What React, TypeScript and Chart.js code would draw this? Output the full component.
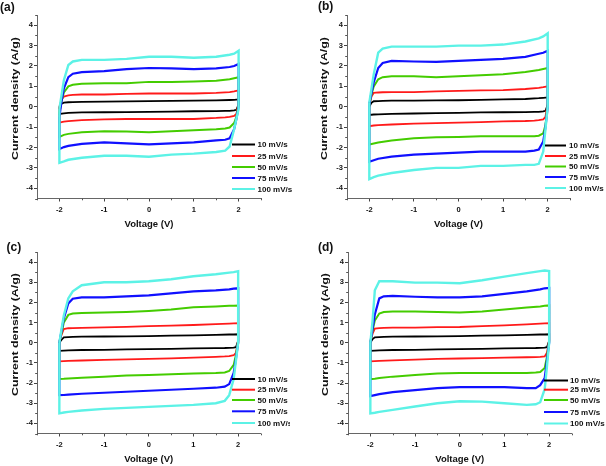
import React, { useEffect, useRef } from 'react';
import { Chart, registerables } from 'chart.js';
Chart.register(...registerables);

const RATES = ['10 mV/s', '25 mV/s', '50 mV/s', '75 mV/s', '100 mV/s'];
const COLORS = ['#000000', '#ff1a1a', '#44cc00', '#1010ff', '#5cf2e6'];
const WIDTHS = [1.8, 1.8, 2, 2.2, 2.4];

const X_TICKS = [-2, -1, 0, 1, 2];
const Y_TICKS = [-4, -3, -2, -1, 0, 1, 2, 3, 4];

// forward scan voltages (-2 -> 2) and reverse scan voltages (2 -> -2)
const V_FWD = [-2, -1.95, -1.9, -1.8, -1.7, -1.5, -1, -0.5, 0, 0.5, 1, 1.5, 1.8, 1.9, 2];
const V_REV = [2, 1.95, 1.9, 1.8, 1.7, 1.5, 1, 0.5, 0, -0.5, -1, -1.5, -1.8, -1.9, -2];

// panel (a)
const A_FWD = [
  [0, 0.15, 0.2, 0.22, 0.23, 0.24, 0.25, 0.26, 0.28, 0.29, 0.3, 0.31, 0.33, 0.34, 0.36],
  [0, 0.35, 0.5, 0.56, 0.58, 0.6, 0.6, 0.63, 0.65, 0.65, 0.65, 0.68, 0.72, 0.75, 0.8],
  [-0.3, 0.3, 0.7, 1.0, 1.08, 1.13, 1.15, 1.15, 1.22, 1.22, 1.24, 1.28, 1.35, 1.4, 1.45],
  [-0.5, 0.3, 0.9, 1.45, 1.62, 1.7, 1.75, 1.85, 1.9, 1.88, 1.85, 1.88, 1.95, 2.0, 2.1],
  [-0.1, 0.6, 1.3, 2.05, 2.22, 2.3, 2.3, 2.35, 2.45, 2.45, 2.4, 2.45, 2.55, 2.6, 2.75],
];
const A_REV = [
  [0.1, -0.15, -0.18, -0.2, -0.2, -0.21, -0.22, -0.24, -0.25, -0.26, -0.27, -0.28, -0.3, -0.32, -0.35],
  [0.2, -0.35, -0.45, -0.5, -0.52, -0.55, -0.6, -0.6, -0.6, -0.6, -0.62, -0.66, -0.7, -0.73, -0.78],
  [0.1, -0.5, -0.8, -1.02, -1.07, -1.1, -1.15, -1.2, -1.25, -1.22, -1.2, -1.25, -1.33, -1.38, -1.48],
  [0, -0.6, -1.1, -1.55, -1.62, -1.65, -1.75, -1.8, -1.85, -1.8, -1.75, -1.82, -1.92, -1.98, -2.08],
  [-0.1, -0.6, -1.1, -1.95, -2.15, -2.22, -2.3, -2.35, -2.45, -2.4, -2.4, -2.5, -2.6, -2.68, -2.75],
];

// panel (b)
const B_FWD = [
  [0, 0.2, 0.27, 0.28, 0.29, 0.3, 0.3, 0.31, 0.32, 0.34, 0.36, 0.38, 0.42, 0.44, 0.46],
  [0.1, 0.5, 0.68, 0.7, 0.71, 0.72, 0.72, 0.75, 0.78, 0.8, 0.82, 0.87, 0.93, 0.96, 1.0],
  [0.1, 0.6, 1.0, 1.35, 1.45, 1.5, 1.5, 1.45, 1.5, 1.55, 1.6, 1.7, 1.8, 1.85, 1.9],
  [0.1, 0.7, 1.2, 1.9, 2.15, 2.25, 2.22, 2.2, 2.25, 2.3, 2.35, 2.45, 2.6, 2.65, 2.75],
  [0.2, 0.9, 1.6, 2.65, 2.85, 2.95, 2.95, 2.95, 3.0, 3.0, 3.05, 3.2, 3.35, 3.45, 3.6],
];
const B_REV = [
  [0.1, -0.2, -0.23, -0.25, -0.25, -0.26, -0.27, -0.28, -0.3, -0.31, -0.33, -0.35, -0.37, -0.38, -0.4],
  [0.2, -0.5, -0.62, -0.66, -0.68, -0.7, -0.72, -0.75, -0.78, -0.8, -0.83, -0.87, -0.9, -0.92, -0.95],
  [0.1, -0.9, -1.3, -1.42, -1.45, -1.45, -1.45, -1.45, -1.48, -1.5, -1.55, -1.65, -1.75, -1.8, -1.85],
  [0, -1.0, -1.7, -2.1, -2.15, -2.2, -2.2, -2.2, -2.25, -2.3, -2.35, -2.45, -2.55, -2.62, -2.7],
  [0, -1.1, -2.2, -2.8, -2.85, -2.85, -2.9, -2.9, -3.0, -3.0, -3.1, -3.25, -3.38, -3.45, -3.55],
];

// panel (c)
const C_FWD = [
  [0, 0.15, 0.27, 0.28, 0.29, 0.3, 0.31, 0.32, 0.33, 0.35, 0.37, 0.39, 0.41, 0.41, 0.42],
  [0.05, 0.4, 0.68, 0.72, 0.73, 0.74, 0.76, 0.79, 0.82, 0.85, 0.88, 0.92, 0.95, 0.96, 0.97],
  [0, 0.5, 1.0, 1.38, 1.45, 1.48, 1.5, 1.53, 1.58, 1.65, 1.76, 1.8, 1.83, 1.84, 1.85],
  [0, 0.6, 1.2, 1.95, 2.18, 2.25, 2.25, 2.3, 2.35, 2.45, 2.55, 2.6, 2.65, 2.68, 2.7],
  [0, 0.7, 1.35, 2.2, 2.55, 2.85, 3.0, 3.0, 3.05, 3.15, 3.3, 3.4, 3.48, 3.5, 3.55],
];
const C_REV = [
  [0.1, -0.22, -0.24, -0.25, -0.26, -0.27, -0.28, -0.3, -0.32, -0.33, -0.35, -0.36, -0.38, -0.39, -0.4],
  [0.1, -0.5, -0.62, -0.66, -0.68, -0.7, -0.74, -0.77, -0.8, -0.82, -0.85, -0.88, -0.9, -0.91, -0.92],
  [0.05, -0.6, -1.1, -1.4, -1.47, -1.5, -1.53, -1.56, -1.6, -1.63, -1.68, -1.73, -1.77, -1.79, -1.8],
  [0, -0.8, -1.5, -2.05, -2.18, -2.23, -2.28, -2.33, -2.38, -2.43, -2.48, -2.53, -2.57, -2.59, -2.6],
  [0, -0.9, -1.8, -2.6, -2.88, -3.0, -3.08, -3.13, -3.18, -3.23, -3.28, -3.36, -3.43, -3.46, -3.5],
];

// panel (d)
const D_FWD = [
  [0, 0.18, 0.27, 0.28, 0.29, 0.3, 0.31, 0.32, 0.33, 0.35, 0.37, 0.39, 0.41, 0.41, 0.42],
  [0.05, 0.45, 0.7, 0.73, 0.74, 0.75, 0.75, 0.77, 0.78, 0.82, 0.86, 0.91, 0.95, 0.96, 0.97],
  [0, 0.6, 1.1, 1.45, 1.52, 1.55, 1.55, 1.52, 1.5, 1.55, 1.65, 1.75, 1.8, 1.83, 1.85],
  [0, 0.7, 1.4, 2.2, 2.3, 2.32, 2.28, 2.25, 2.25, 2.3, 2.42, 2.55, 2.65, 2.7, 2.72],
  [0, 1.1, 2.6, 3.05, 3.05, 3.05, 2.98, 2.98, 2.95, 3.1, 3.28, 3.45, 3.55, 3.58, 3.55],
];
const D_REV = [
  [0.1, -0.22, -0.24, -0.25, -0.26, -0.27, -0.28, -0.3, -0.32, -0.33, -0.35, -0.36, -0.38, -0.39, -0.4],
  [0.1, -0.5, -0.68, -0.7, -0.71, -0.72, -0.74, -0.76, -0.78, -0.8, -0.84, -0.87, -0.9, -0.91, -0.92],
  [0.05, -0.7, -1.25, -1.45, -1.48, -1.5, -1.5, -1.5, -1.5, -1.53, -1.6, -1.68, -1.75, -1.78, -1.8],
  [0, -0.9, -1.75, -2.1, -2.25, -2.25, -2.2, -2.2, -2.2, -2.25, -2.35, -2.45, -2.55, -2.6, -2.65],
  [0, -1.2, -2.3, -2.95, -3.05, -3.08, -3.0, -2.92, -2.9, -3.0, -3.16, -3.33, -3.43, -3.47, -3.5],
];

const X_TITLE = 'Voltage (V)';
const Y_TITLE = 'Current density (A/g)';

const W = 303;
const H = 233;
const FAMILY = '"Liberation Sans", Arial, Helvetica, sans-serif';

const PANELS = [
  { id: '(a)', fwd: A_FWD, rev: A_REV,
    box: { left: 37, top: 15, right: 261, bottom: 198.5, labelX: 0, labelY: 8, lx1: 232, lx2: 255, tx: 257.5, ly: [144.5, 156, 167, 178, 189], clip: 0, yTitleX: 15 } },
  { id: '(b)', fwd: B_FWD, rev: B_REV,
    box: { left: 44, top: 15, right: 267, bottom: 198.5, labelX: 15, labelY: 7, lx1: 242, lx2: 263, tx: 266, ly: [145.5, 156, 166.5, 177, 188], clip: 0, yTitleX: 21 } },
  { id: '(c)', fwd: C_FWD, rev: C_REV,
    box: { left: 37, top: 19, right: 260.5, bottom: 200.5, labelX: 6.5, labelY: 15, lx1: 232, lx2: 255, tx: 257.5, ly: [146, 156.7, 167, 178.3, 190], clip: 290, yTitleX: 15 } },
  { id: '(d)', fwd: D_FWD, rev: D_REV,
    box: { left: 45, top: 19, right: 268.5, bottom: 200.5, labelX: 15, labelY: 15, lx1: 241, lx2: 265, tx: 267, ly: [147.5, 156.7, 167, 179, 190.5], clip: 0, yTitleX: 22 } },
];

function Panel({ cfg }: { cfg: any }) {
  const ref = useRef<HTMLCanvasElement>(null);
  useEffect(() => {
    const B = cfg.box;
    const datasets = cfg.fwd.map((f: number[], i: number) => {
      const pts: { x: number; y: number }[] = [];
      V_FWD.forEach((v, j) => pts.push({ x: v, y: f[j] }));
      V_REV.forEach((v, j) => pts.push({ x: v, y: cfg.rev[i][j] }));
      pts.push({ ...pts[0] });
      return {
        label: RATES[i],
        data: pts,
        borderColor: COLORS[i],
        backgroundColor: COLORS[i],
        borderWidth: WIDTHS[i],
        pointRadius: 0,
        showLine: true,
        tension: 0,
        fill: false,
      };
    }).reverse();

    const decor = {
      id: 'decor',
      afterDraw(chart: any) {
        const ctx = chart.ctx;
        const { left, right, top, bottom } = chart.chartArea;
        const xs = chart.scales.x;
        const ys = chart.scales.y;
        ctx.save();
        // minor ticks
        ctx.strokeStyle = '#555';
        ctx.lineWidth = 1;
        for (let k = -5; k <= 5; k += 2) {
          const px = Math.round(xs.getPixelForValue(k / 2)) + 0.5;
          ctx.beginPath();
          ctx.moveTo(px, bottom);
          ctx.lineTo(px, bottom + 1.8);
          ctx.stroke();
        }
        for (let k = -9; k <= 9; k += 2) {
          const py = Math.round(ys.getPixelForValue(k / 2)) + 0.5;
          ctx.beginPath();
          ctx.moveTo(left, py);
          ctx.lineTo(left - 1.8, py);
          ctx.stroke();
        }
        // panel label
        ctx.fillStyle = '#111';
        ctx.textBaseline = 'middle';
        ctx.textAlign = 'left';
        ctx.font = `bold 12px ${FAMILY}`;
        ctx.fillText(cfg.id, B.labelX, B.labelY);
        // x title
        ctx.textAlign = 'center';
        ctx.font = `bold 9.5px ${FAMILY}`;
        ctx.fillText(X_TITLE, (left + right) / 2, bottom + 25.7);
        // y title
        ctx.save();
        ctx.translate(B.yTitleX, top + 0.455 * (bottom - top));
        ctx.rotate(-Math.PI / 2);
        ctx.scale(1.3, 1);
        ctx.font = `bold 9.5px ${FAMILY}`;
        ctx.fillText(Y_TITLE, 0, 0);
        ctx.restore();
        // legend
        if (B.clip) {
          ctx.beginPath();
          ctx.rect(0, 0, B.clip, H);
          ctx.clip();
        }
        ctx.textAlign = 'left';
        ctx.font = `bold 8px ${FAMILY}`;
        RATES.forEach((r, i) => {
          const y = B.ly[i];
          ctx.strokeStyle = COLORS[i];
          ctx.lineWidth = 2;
          ctx.beginPath();
          ctx.moveTo(B.lx1, y);
          ctx.lineTo(B.lx2, y);
          ctx.stroke();
          ctx.fillStyle = '#111';
          ctx.fillText(r, B.tx, y + 0.5);
        });
        ctx.restore();
      },
    };

    const tickFont = { family: FAMILY, size: 7.5, weight: 'bold' as const };
    const chart = new Chart(ref.current as HTMLCanvasElement, {
      type: 'scatter',
      data: { datasets },
      options: {
        responsive: false,
        animation: false,
        devicePixelRatio: 1,
        layout: { padding: { top: B.top, right: W - B.right, left: 0, bottom: 0 } },
        plugins: { legend: { display: false }, tooltip: { enabled: false }, title: { display: false } },
        scales: {
          x: {
            type: 'linear',
            min: -2.5,
            max: 2.5,
            afterFit: (s: any) => { s.height = H - B.bottom; },
            afterBuildTicks: (s: any) => { s.ticks = X_TICKS.map((v) => ({ value: v })); },
            ticks: { font: tickFont, color: '#111', padding: 4, maxRotation: 0, autoSkip: false },
            grid: { drawOnChartArea: false, drawTicks: true, tickLength: 3, tickColor: '#444', tickWidth: 1 },
            border: { display: true, color: '#666', width: 1 },
          },
          y: {
            type: 'linear',
            min: -4.5,
            max: 4.5,
            afterFit: (s: any) => { s.width = B.left; },
            afterBuildTicks: (s: any) => { s.ticks = Y_TICKS.map((v) => ({ value: v })); },
            ticks: { font: tickFont, color: '#111', padding: 1, autoSkip: false },
            grid: { drawOnChartArea: false, drawTicks: true, tickLength: 3, tickColor: '#444', tickWidth: 1 },
            border: { display: true, color: '#666', width: 1 },
          },
        },
      } as any,
      plugins: [decor],
    });
    return () => chart.destroy();
  }, [cfg]);
  return (
    <canvas
      ref={ref}
      width={W}
      height={H}
      style={{ display: 'block', width: `${W}px`, height: `${H}px` }}
    />
  );
}

export default function App() {
  return (
    <div
      style={{
        position: 'absolute',
        left: 0,
        top: 0,
        width: 606,
        height: 466,
        background: '#ffffff',
        display: 'grid',
        gridTemplateColumns: `${W}px ${W}px`,
        gridTemplateRows: `${H}px ${H}px`,
      }}
    >
      {PANELS.map((p) => (
        <Panel key={p.id} cfg={p} />
      ))}
    </div>
  );
}
